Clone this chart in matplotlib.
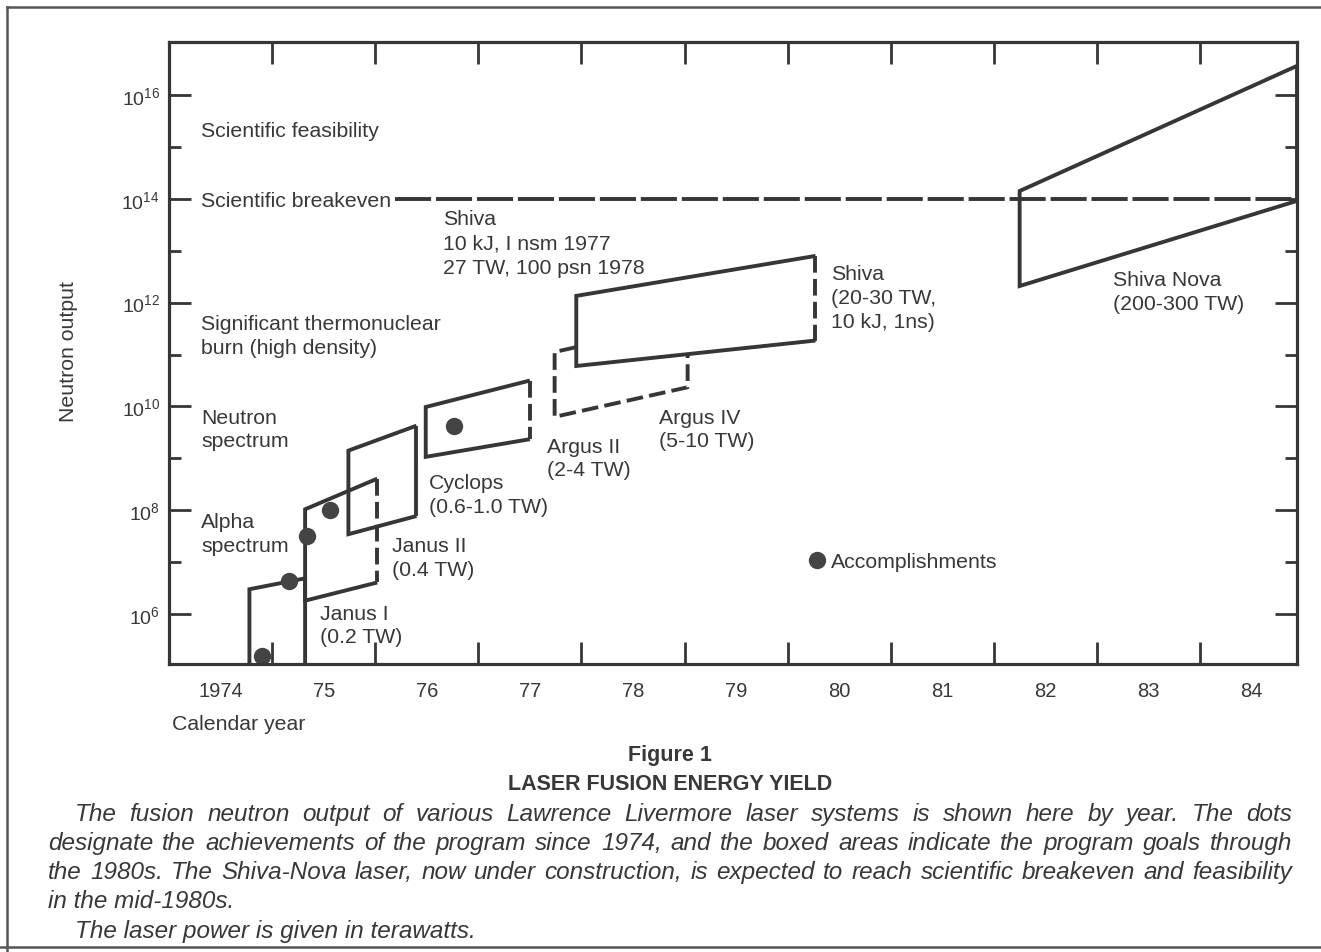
import numpy as np
import matplotlib
matplotlib.use("Agg")
import matplotlib.pyplot as plt
from matplotlib.lines import Line2D
from matplotlib.patches import Polygon
from matplotlib.ticker import FixedLocator, FixedFormatter, NullFormatter

# ---------------- data ----------------
year_tick_labels = ["1974", "75", "76", "77", "78", "79", "80", "81", "82", "83", "84"]
label_years = [1974.5, 1975.5, 1976.5, 1977.5, 1978.5, 1979.5,
               1980.5, 1981.5, 1982.5, 1983.5, 1984.5]
tick_years = [1975, 1976, 1977, 1978, 1979, 1980, 1981, 1982, 1983, 1984]
decades_major = [6, 8, 10, 12, 14, 16]
decades_minor = [7, 9, 11, 13, 15]
decade_labels = ["$\\mathregular{10^{6}}$", "$\\mathregular{10^{8}}$",
                 "$\\mathregular{10^{10}}$", "$\\mathregular{10^{12}}$",
                 "$\\mathregular{10^{14}}$", "$\\mathregular{10^{16}}$"]

# accomplishments: year, log10(neutron output)
acc_year = [1974.90, 1975.16, 1975.34, 1975.56, 1976.76]
acc_logn = [5.20, 6.63, 7.51, 8.01, 9.63]

# goal boxes: [left year, right year], log10 output of top and bottom edges [left, right]
alpha_year = [1974.78, 1975.32]
alpha_top = [6.48, 6.69]
janus1_year = [1975.32, 1976.02]
janus1_top = [8.02, 8.61]
janus1_bot = [6.26, 6.61]
janus2_year = [1975.74, 1976.40]
janus2_top = [9.15, 9.63]
janus2_bot = [7.54, 7.89]
cyclops_year = [1976.49, 1977.50]
cyclops_top = [9.99, 10.50]
cyclops_bot = [9.03, 9.37]
argus_year = [1977.74, 1979.03]
argus_top = [11.05, 11.62]
argus_bot = [9.80, 10.37]
shiva_year = [1977.95, 1980.27]
shiva_top = [12.13, 12.90]
shiva_bot = [10.78, 11.27]
nova_year = [1982.25, 1984.94]
nova_top = [14.15, 16.56]
nova_bot = [12.32, 13.96]

breakeven_logn = 14
breakeven_start = 1976.19

# ---------------- style / layout ----------------
W, H, DPI = 1321, 953, 100
LC = "#363636"
TC = "#383838"
LW = 2.8
BOX_DASH = (0, (12, 4.5))
LINE_DASH = (0, (26, 3.5))
XMIN, XMAX = 1974, 1984.94
YMIN, YMAX = 10 ** 5.04, 10 ** 17.02

plt.rcParams["font.family"] = ["Liberation Sans", "DejaVu Sans"]
plt.rcParams["mathtext.fontset"] = "custom"
plt.rcParams["mathtext.rm"] = "Liberation Sans"
plt.rcParams["lines.scale_dashes"] = False

fig = plt.figure(figsize=(W / DPI, H / DPI), dpi=DPI, facecolor="white")
ax = fig.add_axes([169 / W, 1 - 665 / H, (1297 - 169) / W, (665 - 43) / H])
ax.set_xlim(XMIN, XMAX)
ax.set_yscale("log")
ax.set_ylim(YMIN, YMAX)

for s in ax.spines.values():
    s.set_linewidth(2.3)
    s.set_color(LC)
    s.set_zorder(7)

ax.xaxis.set_major_locator(FixedLocator(tick_years))
ax.xaxis.set_major_formatter(NullFormatter())
ax.xaxis.set_minor_locator(FixedLocator(label_years))
ax.xaxis.set_minor_formatter(FixedFormatter(year_tick_labels))
ax.yaxis.set_major_locator(FixedLocator([10.0 ** d for d in decades_major]))
ax.yaxis.set_major_formatter(FixedFormatter(decade_labels))
ax.yaxis.set_minor_locator(FixedLocator([10.0 ** d for d in decades_minor]))
ax.yaxis.set_minor_formatter(NullFormatter())

ax.tick_params(axis="both", which="major", direction="in", length=15.5, width=2.0,
               color=LC, top=True, right=True)
ax.tick_params(axis="x", which="minor", direction="in", length=0, top=False,
               bottom=True, pad=12, labelsize=14.5, labelcolor=TC)
ax.tick_params(axis="y", which="minor", direction="in", length=8.5, width=2.0,
               color=LC, left=True, right=True)
ax.tick_params(axis="y", which="major", pad=6.5, labelsize=14, labelcolor=TC)

ax.set_ylabel("Neutron output", fontsize=15.3, color=TC)
ax.yaxis.set_label_coords((69 - 169) / 1128, (665 - 352) / 622)
ax.yaxis.label.set_verticalalignment("center")
ax.set_xlabel("Calendar year", fontsize=15.3, color=TC)
ax.xaxis.set_label_coords((172.5 - 169) / 1128, (665 - 725) / 622)
ax.xaxis.label.set_horizontalalignment("left")
ax.xaxis.label.set_verticalalignment("center")

common = dict(color=LC, lw=LW, solid_capstyle="butt", solid_joinstyle="miter",
              dash_capstyle="butt")


def p10(v):
    return [10.0 ** x for x in v]


# breakeven line
ax.plot([breakeven_start, XMAX], p10([breakeven_logn, breakeven_logn]),
        linestyle=LINE_DASH, zorder=2, **common)

# 1974 system (open below the axis)
ax.plot([alpha_year[0], alpha_year[0], alpha_year[1], alpha_year[1]],
        p10([4.0, alpha_top[0], alpha_top[1], 4.0]), zorder=3, **common)


def box(yrs, top, bot, dashed_right=False, all_dashed=False, fill=False, z=3):
    xs = [yrs[1], yrs[0], yrs[0], yrs[1]]
    ys = [top[1], top[0], bot[0], bot[1]]
    if fill:
        ax.add_patch(Polygon(list(zip(xs, p10(ys))), closed=True, facecolor="white",
                             edgecolor="none", zorder=z - 0.5))
    if all_dashed:
        ax.plot(xs + [xs[0]], p10(ys + [ys[0]]), linestyle=BOX_DASH, zorder=z, **common)
        return
    ax.plot(xs, p10(ys), zorder=z, **common)
    ax.plot([yrs[1], yrs[1]], p10([top[1], bot[1]]),
            linestyle=BOX_DASH if dashed_right else "-", zorder=z, **common)


box(janus1_year, janus1_top, janus1_bot, dashed_right=True)
box(janus2_year, janus2_top, janus2_bot)
box(cyclops_year, cyclops_top, cyclops_bot, dashed_right=True)
box(argus_year, argus_top, argus_bot, all_dashed=True)
box(shiva_year, shiva_top, shiva_bot, dashed_right=True, fill=True, z=5)
box(nova_year, nova_top, nova_bot, z=5)

ax.plot(acc_year, p10(acc_logn), linestyle="none", marker="o", markersize=12.5,
        color="#444444", markeredgewidth=0, zorder=6, clip_on=False,
        label="Accomplishments")
leg = ax.legend(loc="center left", bbox_to_anchor=(810.6 / W, 1 - 562.7 / H),
                bbox_transform=fig.transFigure, frameon=False, handlelength=0.6,
                handletextpad=0.35, borderpad=0, borderaxespad=0, numpoints=1,
                fontsize=15.3, labelcolor=TC)


def ftxt(x, y, s, size=15.3, **kw):
    fig.text(x / W, 1 - y / H, s, fontsize=size, color=TC, ha=kw.pop("ha", "left"),
             va=kw.pop("va", "baseline"), **kw)


annotations = [
    ("Scientific feasibility", 201, 130),
    ("Scientific breakeven", 201, 200),
    ("Shiva", 443, 218), ("10 kJ, I nsm 1977", 443, 242), ("27 TW, 100 psn 1978", 443, 267),
    ("Significant thermonuclear", 201, 323), ("burn (high density)", 201, 347),
    ("Neutron", 201, 417), ("spectrum", 201, 440),
    ("Alpha", 201, 521), ("spectrum", 201, 545),
    ("Cyclops", 429, 482), ("(0.6-1.0 TW)", 429, 506),
    ("Janus II", 392, 545), ("(0.4 TW)", 392, 569),
    ("Janus I", 320, 613), ("(0.2 TW)", 320, 636),
    ("Argus II", 547, 446), ("(2-4 TW)", 547, 469),
    ("Argus IV", 659, 417), ("(5-10 TW)", 659, 440),
    ("Shiva", 831, 273), ("(20-30 TW,", 831, 297), ("10 kJ, 1ns)", 831, 321),
    ("Shiva Nova", 1113, 279), ("(200-300 TW)", 1113, 303),
]
for s, x, y in annotations:
    ftxt(x, y + 7, s)

# ---------------- caption ----------------
ftxt(670, 761, "Figure 1", size=15.5, ha="center", fontweight="bold")
ftxt(670, 790, "LASER FUSION ENERGY YIELD", size=15.5, ha="center", fontweight="bold")

renderer = fig.canvas.get_renderer()
CAP_SIZE = 17.5


def justify(text, x0, x1, y, size=CAP_SIZE):
    words = text.split()
    while True:
        arts = [fig.text(0, 1 - y / H, w, fontsize=size, color=TC, style="italic",
                         ha="left", va="baseline") for w in words]
        widths = [a.get_window_extent(renderer).width for a in arts]
        gap = (x1 - x0 - sum(widths)) / max(len(words) - 1, 1)
        if gap >= 0.22 * size * DPI / 72 or size < 12:
            break
        for a in arts:
            a.remove()
        size -= 0.25
    x = x0
    for a, w in zip(arts, widths):
        a.set_x(x / W)
        x += w + gap


cap_lines = [
    ("The fusion neutron output of various Lawrence Livermore laser systems is shown here by year. The dots", 75, 1292, 821, True),
    ("designate the achievements of the program since 1974, and the boxed areas indicate the program goals through", 48, 1292, 850, True),
    ("the 1980s. The Shiva-Nova laser, now under construction, is expected to reach scientific breakeven and feasibility", 48, 1292, 879, True),
    ("in the mid-1980s.", 48, None, 908, False),
    ("The laser power is given in terawatts.", 75, None, 938, False),
]
for s, x0, x1, y, just in cap_lines:
    if just:
        justify(s, x0, x1, y)
    else:
        ftxt(x0, y, s, size=CAP_SIZE, style="italic")

# page frame
for xs, ys in [([7, W], [8, 8]), ([7, 7], [8, H]), ([0, W], [948, 948])]:
    fig.add_artist(Line2D([x / W for x in xs], [1 - y / H for y in ys],
                          transform=fig.transFigure, color="#555555", lw=1.8))

fig.savefig("out.png", dpi=DPI, facecolor="white")
